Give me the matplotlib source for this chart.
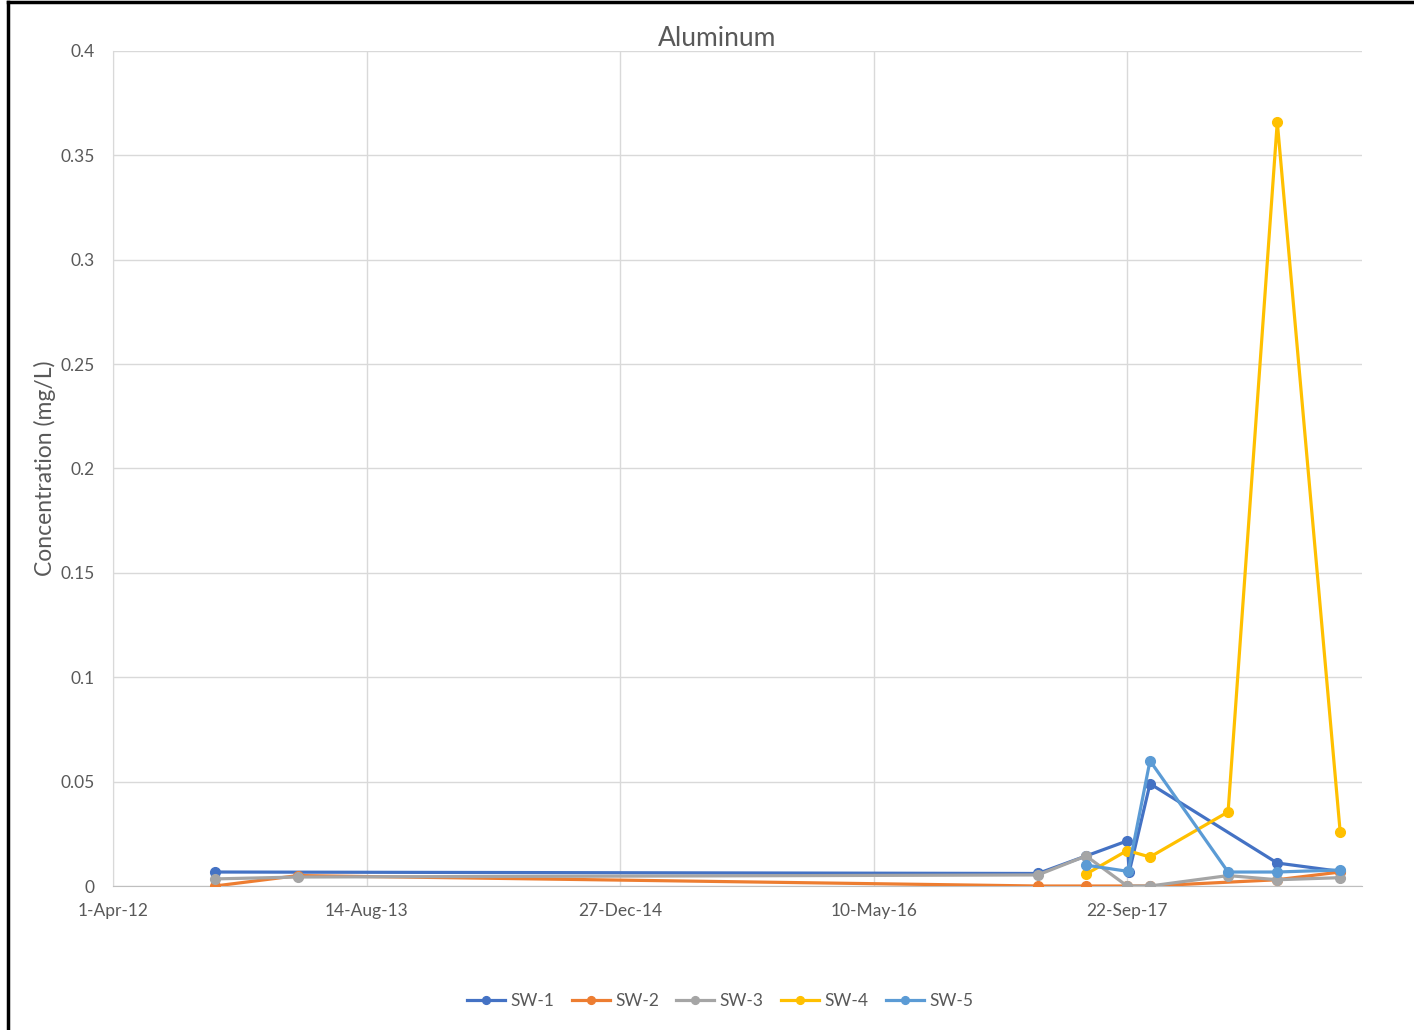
import numpy as np
import pandas as pd
import matplotlib
matplotlib.use("Agg")
import matplotlib.pyplot as plt
import matplotlib.dates as mdates
from matplotlib.lines import Line2D
from matplotlib.ticker import FuncFormatter, MultipleLocator

plt.rcParams["font.family"] = ["Lato", "DejaVu Sans"]

# ---- sample data (mg/L) ----
sw1_dates = ["2012-10-19", "2017-03-30", "2017-07-03", "2017-09-22", "2017-09-26",
             "2017-11-06", "2018-07-15", "2018-11-16"]
sw1_vals = [0.0067, 0.0060, 0.0144, 0.0216, 0.0067, 0.049, 0.0110, 0.0070]

sw2_dates = ["2012-10-19", "2013-04-01", "2017-03-30", "2017-07-03", "2017-09-22",
             "2017-11-06", "2018-07-15", "2018-11-16"]
sw2_vals = [0.0, 0.0050, 0.0, 0.0, 0.0, 0.0, 0.0030, 0.0067]

sw3_dates = ["2012-10-19", "2013-04-01", "2017-03-30", "2017-07-03", "2017-09-22",
             "2017-11-06", "2018-04-09", "2018-07-15", "2018-11-16"]
sw3_vals = [0.0034, 0.0043, 0.0053, 0.0144, 0.0, 0.0, 0.0050, 0.0030, 0.0040]

sw4_dates = ["2017-07-03", "2017-09-22", "2017-11-06", "2018-04-09", "2018-07-15",
             "2018-11-16"]
sw4_vals = [0.0057, 0.0170, 0.0139, 0.0355, 0.366, 0.026]

sw5_dates = ["2017-07-03", "2017-09-24", "2017-11-06", "2018-04-09", "2018-07-15",
             "2018-11-16"]
sw5_vals = [0.0100, 0.0070, 0.060, 0.0067, 0.0067, 0.0077]

series_names = ["SW-1", "SW-2", "SW-3", "SW-4", "SW-5"]
colors = ["#4472C4", "#ED7D31", "#A5A5A5", "#FFC000", "#5B9BD5"]
series = [
    (sw1_dates, sw1_vals),
    (sw2_dates, sw2_vals),
    (sw3_dates, sw3_vals),
    (sw4_dates, sw4_vals),
    (sw5_dates, sw5_vals),
]

x_start = pd.Timestamp("2012-04-01")
tick_step_days = 500
text_gray = "#595959"

fig = plt.figure(figsize=(14.14, 10.30), dpi=100)
ax = fig.add_axes([0.0799, 0.1398, 0.8833, 0.8107])

for name, color, (dates, vals) in zip(series_names, colors, series):
    x = mdates.date2num(pd.to_datetime(dates))
    ax.plot(x, vals, color=color, lw=2.3, marker="o", ms=7,
            markerfacecolor=color, markeredgecolor=color, label=name, zorder=3)

x0 = mdates.date2num(x_start)
ax.set_xlim(x0, x0 + 2463)
ax.set_ylim(0, 0.4)
# ticks every 500 days, anchored on 1-Apr-12
ax.set_xticks([x0 + i * tick_step_days for i in range(5)])

def fmt_date(v, pos):
    d = mdates.num2date(v)
    return f"{d.day}-{d.strftime('%b-%y')}"

ax.xaxis.set_major_formatter(FuncFormatter(fmt_date))
ax.yaxis.set_major_locator(MultipleLocator(0.05))
ax.yaxis.set_major_formatter(FuncFormatter(lambda v, p: "0" if v == 0 else f"{v:g}"))

ax.grid(True, color="#D9D9D9", lw=1.0, zorder=0)
ax.set_axisbelow(True)
for side in ["top", "right"]:
    ax.spines[side].set_visible(False)
ax.spines["left"].set_color("#D9D9D9")
ax.spines["bottom"].set_color("#BFBFBF")
ax.tick_params(axis="x", length=0, labelsize=12.5, labelcolor=text_gray, pad=12)
ax.tick_params(axis="y", length=0, labelsize=12.5, labelcolor=text_gray, pad=13)

ax.set_ylabel("Concentration (mg/L)", fontsize=16.5, color=text_gray)
ax.yaxis.set_label_coords(-0.0456, 0.5)
fig.text(717 / 1414, 1 - 38 / 1030, "Aluminum", fontsize=19, color=text_gray,
         ha="center", va="center")

handles, labels = ax.get_legend_handles_labels()
fig.legend(handles, labels, loc="center", bbox_to_anchor=(720 / 1414, 29 / 1030),
           ncol=5, frameon=False, fontsize=12.5, labelcolor=text_gray,
           handlelength=2.2, columnspacing=1.0, handletextpad=0.3, markerscale=0.8)

# outer frame lines along the top and left edges
fig.add_artist(Line2D([0.0057, 0.0057], [0.0, 0.998], transform=fig.transFigure,
                      color="black", lw=2.5))
fig.add_artist(Line2D([0.0057, 1.0], [0.998, 0.998], transform=fig.transFigure,
                      color="black", lw=2.5))

fig.savefig("out.png", dpi=100)
